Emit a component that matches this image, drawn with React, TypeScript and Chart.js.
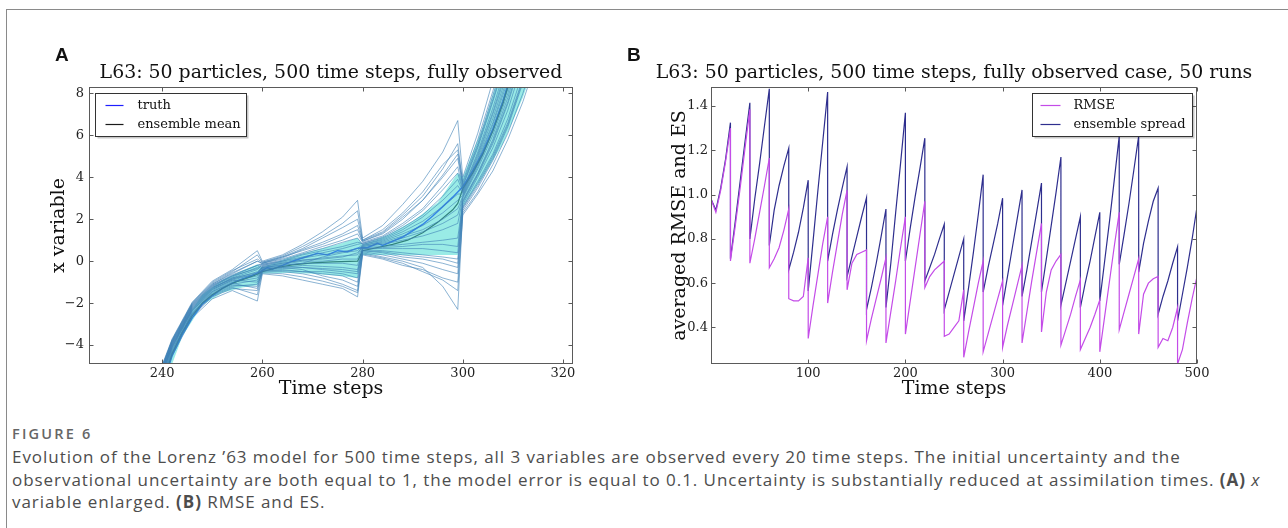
import React, { useEffect, useRef } from "react";
import { Chart, registerables } from "chart.js";

Chart.register(...registerables);

const SERIF = "'DejaVu Serif', 'Liberation Serif', serif";

// ---------------- Panel A data ----------------
const xTicksA = [240, 260, 280, 300, 320];
const yTicksA = [-4, -2, 0, 2, 4, 6, 8];

const particleTimes = [238, 242, 246, 250, 254, 259, 260, 264, 268, 272, 276, 279, 280, 284, 288, 292, 296, 299, 300, 303, 306, 309, 312, 316];
const particle01 = [-7.2, -4.5, -2.7, -1.8, -1.4, -1.9, -0.6, -0.7, -0.9, -1.1, -1.3, -1.7, 0.3, 0.1, -0.2, -0.4, -0.8, -1.0, 2.2, 3.2, 4.3, 5.8, 7.6, 10.5];
const particle02 = [-7.0, -4.4, -2.6, -1.7, -1.3, -1.4, -0.5, -0.5, -0.6, -0.8, -1.1, -1.4, 0.4, 0.2, 0.0, -0.3, -1.2, -2.3, 2.4, 3.5, 4.8, 6.4, 8.5, 11.5];
const particle03 = [-6.9, -4.3, -2.5, -1.6, -1.2, -1.1, -0.45, -0.4, -0.5, -0.6, -0.7, -1.0, 0.5, 0.4, 0.2, 0.1, -0.1, -0.3, 2.6, 3.8, 5.1, 6.8, 9.0, 12];
const particle04 = [-6.8, -4.2, -2.5, -1.5, -1.1, -0.9, -0.4, -0.35, -0.3, -0.4, -0.5, -0.6, 0.55, 0.5, 0.4, 0.3, 0.2, 0.1, 2.7, 4.0, 5.4, 7.2, 9.5, 13];
const particle05 = [-6.7, -4.15, -2.4, -1.45, -1.0, -0.8, -0.35, -0.3, -0.2, -0.25, -0.3, -0.4, 0.6, 0.6, 0.6, 0.6, 0.5, 0.4, 2.8, 4.1, 5.6, 7.5, 9.8, 13.5];
const particle06 = [-6.6, -4.1, -2.35, -1.4, -0.95, -0.7, -0.3, -0.2, -0.1, -0.1, -0.1, -0.2, 0.65, 0.7, 0.8, 0.9, 1.0, 1.1, 2.9, 4.2, 5.8, 7.8, 10.2, 14];
const particle07 = [-6.6, -4.05, -2.3, -1.35, -0.9, -0.6, -0.3, -0.15, 0.0, 0.0, 0.1, 0.1, 0.7, 0.8, 1.0, 1.2, 1.5, 1.8, 3.0, 4.4, 6.0, 8.0, 10.5, 14.5];
const particle08 = [-6.5, -4.0, -2.25, -1.3, -0.85, -0.5, -0.25, -0.1, 0.05, 0.15, 0.25, 0.3, 0.75, 0.9, 1.2, 1.5, 2.0, 2.5, 3.1, 4.6, 6.3, 8.4, 11, 15];
const particle09 = [-6.5, -3.95, -2.2, -1.25, -0.8, -0.4, -0.2, -0.05, 0.15, 0.3, 0.45, 0.6, 0.8, 1.0, 1.4, 1.9, 2.6, 3.2, 3.2, 4.8, 6.6, 8.8, 11.5, 15.5];
const particle10 = [-6.4, -3.9, -2.15, -1.2, -0.75, -0.3, -0.15, 0.0, 0.3, 0.5, 0.7, 0.9, 0.85, 1.1, 1.6, 2.2, 3.1, 3.9, 3.3, 5.0, 7.0, 9.2, 12, 16];
const particle11 = [-6.4, -3.85, -2.1, -1.15, -0.7, -0.2, -0.1, 0.1, 0.4, 0.7, 1.0, 1.3, 0.9, 1.2, 1.8, 2.5, 3.6, 4.5, 3.4, 5.2, 7.3, 9.6, 12.5, 16.5];
const particle12 = [-6.3, -3.8, -2.05, -1.1, -0.6, 0.0, -0.1, 0.15, 0.55, 0.9, 1.3, 1.7, 0.95, 1.3, 2.0, 2.9, 4.1, 5.1, 3.6, 5.5, 7.7, 10, 13, 17];
const particle13 = [-6.3, -3.75, -2.0, -1.05, -0.5, 0.3, -0.05, 0.2, 0.6, 1.1, 1.6, 2.0, 1.0, 1.5, 2.3, 3.3, 4.6, 5.3, 3.8, 5.8, 8.1, 10.5, 13.5, 17.5];
const particle14 = [-6.2, -3.7, -1.95, -0.95, -0.4, 0.5, 0.0, 0.3, 0.8, 1.4, 2.1, 2.9, 1.1, 1.7, 2.7, 3.8, 5.2, 6.7, 4.0, 6.1, 8.6, 11, 14, 18];
const particle15 = [-6.9, -4.35, -2.55, -1.65, -1.25, -1.6, -0.55, -0.6, -0.75, -0.95, -1.2, -1.5, 0.35, 0.15, -0.1, -0.5, -0.9, -1.4, 2.3, 3.3, 4.6, 6.1, 8.0, 11];
const particle16 = [-6.75, -4.25, -2.45, -1.55, -1.15, -1.2, -0.45, -0.45, -0.5, -0.5, -0.6, -0.8, 0.5, 0.45, 0.3, 0.2, 0.1, -0.1, 2.55, 3.7, 5.0, 6.6, 8.7, 11.8];
const particle17 = [-6.55, -4.05, -2.3, -1.35, -0.9, -1.0, -0.35, -0.25, -0.3, -0.35, -0.4, -0.5, 0.6, 0.65, 0.7, 0.8, 0.8, 0.7, 2.85, 4.15, 5.7, 7.6, 10, 13.7];
const particle18 = [-6.45, -3.95, -2.2, -1.25, -0.85, -0.6, -0.25, -0.1, 0.05, 0.1, 0.2, 0.4, 0.7, 0.85, 1.1, 1.4, 1.8, 2.2, 3.05, 4.5, 6.2, 8.2, 10.8, 14.8];
const particle19 = [-6.35, -3.85, -2.1, -1.15, -0.65, -0.2, -0.15, 0.05, 0.35, 0.6, 0.9, 1.1, 0.8, 1.05, 1.5, 2.1, 2.9, 3.6, 3.25, 4.9, 6.8, 9.0, 11.8, 15.8];
const particle20 = [-6.25, -3.75, -2.0, -1.0, -0.45, 0.1, -0.05, 0.25, 0.7, 1.2, 1.8, 2.4, 1.0, 1.4, 2.2, 3.1, 4.4, 5.6, 3.7, 5.6, 7.9, 10.2, 13.2, 17.2];
const particle21 = [-6.6, -4.1, -2.35, -1.45, -1.05, -1.3, -0.4, -0.3, -0.4, -0.7, -0.9, -1.2, 0.45, 0.3, 0.1, -0.1, -0.4, -0.6, 2.5, 3.6, 4.9, 6.5, 8.6, 11.6];
const particle22 = [-6.5, -4.0, -2.25, -1.3, -0.8, -0.55, -0.3, -0.2, -0.1, 0.2, 0.4, 0.5, 0.75, 0.95, 1.3, 1.7, 2.3, 2.9, 3.15, 4.7, 6.5, 8.6, 11.2, 15.2];
const particle23 = [-6.4, -3.9, -2.15, -1.2, -0.7, -0.35, -0.2, 0.0, 0.2, 0.4, 0.6, 0.8, 0.85, 1.15, 1.7, 2.4, 3.4, 4.2, 3.35, 5.1, 7.1, 9.4, 12.2, 16.2];
const particle24 = [-6.3, -3.8, -2.05, -1.1, -0.55, 0.0, -0.1, 0.2, 0.5, 0.8, 1.2, 1.5, 0.95, 1.35, 2.1, 2.9, 4.0, 4.9, 3.55, 5.4, 7.6, 9.9, 12.8, 16.8];
const particles = [
  particle01, particle02, particle03, particle04, particle05, particle06, particle07, particle08,
  particle09, particle10, particle11, particle12, particle13, particle14, particle15, particle16,
  particle17, particle18, particle19, particle20, particle21, particle22, particle23, particle24,
];

const bandTimes = [240, 244, 248, 252, 256, 259, 260, 265, 270, 275, 279, 280, 285, 290, 295, 299, 300, 304, 308, 312, 316];
const bandLower = [-6.2, -3.6, -2.1, -1.5, -1.25, -1.15, -0.6, -0.55, -0.6, -0.7, -0.8, 0.3, 0.3, 0.3, 0.3, 0.3, 2.6, 4.0, 5.6, 7.8, 10.5];
const bandUpper = [-5.2, -3.0, -1.6, -0.9, -0.45, -0.15, -0.3, 0.15, 0.5, 0.8, 1.1, 0.8, 1.25, 1.9, 2.8, 4.2, 4.0, 6.4, 9.5, 13, 17];

const meanTimes = [240, 242, 244, 246, 248, 250, 252, 254, 256, 258, 259, 260, 263, 266, 270, 274, 279, 280, 283, 286, 289, 292, 295, 298, 299, 300, 302, 304, 306, 308, 310, 312];
const meanValues = [-5.9, -4.4, -3.4, -2.6, -2.0, -1.6, -1.3, -1.05, -0.88, -0.72, -0.62, -0.5, -0.3, -0.18, -0.08, -0.03, 0.0, 0.5, 0.65, 0.8, 1.0, 1.35, 1.85, 2.45, 2.75, 3.45, 4.2, 5.1, 6.2, 7.5, 9.1, 11];

const truthTimes = [240, 242, 244, 246, 248, 250, 252, 254, 256, 258, 260, 261, 262, 264, 266, 268, 270, 271, 273, 275, 277, 279, 281, 282, 283, 284, 286, 288, 290, 292, 294, 296, 298, 300, 302, 304, 306, 308, 310];
const truthValues = [-6.0, -4.5, -3.5, -2.7, -2.05, -1.65, -1.3, -1.05, -0.85, -0.68, -0.45, -0.3, -0.38, -0.2, 0.0, 0.15, 0.3, 0.38, 0.3, 0.5, 0.45, 0.62, 0.65, 0.75, 0.85, 0.75, 0.95, 1.15, 1.45, 1.75, 2.15, 2.6, 3.05, 3.55, 4.3, 5.2, 6.3, 7.6, 9.2];

// ---------------- Panel B data ----------------
const xTicksB = [100, 200, 300, 400, 500];
const yTicksB = [0.4, 0.6, 0.8, 1.0, 1.2, 1.4];
const segmentStarts = [0, 20, 40, 60, 80, 100, 120, 140, 160, 180, 200, 220, 240, 260, 280, 300, 320, 340, 360, 380, 400, 420, 440, 460, 480];
const sampleOffsets = [0, 5, 10, 15, 20];

const esLow = [0.98, 0.71, 0.80, 0.77, 0.66, 0.565, 0.70, 0.63, 0.48, 0.49, 0.70, 0.61, 0.48, 0.43, 0.56, 0.50, 0.54, 0.56, 0.50, 0.49, 0.52, 0.685, 0.65, 0.46, 0.43];
const esQ1 = [0.93, 0.88, 0.98, 0.93, 0.74, 0.79, 0.82, 0.72, 0.58, 0.69, 0.85, 0.67, 0.56, 0.58, 0.67, 0.63, 0.66, 0.71, 0.60, 0.60, 0.70, 0.82, 0.78, 0.54, 0.55];
const esQ2 = [1.03, 1.06, 1.14, 1.04, 0.83, 1.02, 0.93, 0.81, 0.69, 0.92, 0.99, 0.73, 0.64, 0.74, 0.77, 0.76, 0.79, 0.86, 0.70, 0.70, 0.88, 0.96, 0.88, 0.61, 0.67];
const esQ3 = [1.16, 1.24, 1.31, 1.13, 0.94, 1.24, 1.03, 0.90, 0.81, 1.14, 1.12, 0.80, 0.72, 0.91, 0.87, 0.89, 0.92, 1.01, 0.80, 0.81, 1.07, 1.11, 0.97, 0.69, 0.80];
const esPeak = [1.325, 1.415, 1.478, 1.21, 1.065, 1.463, 1.126, 0.986, 0.935, 1.37, 1.255, 0.866, 0.80, 1.09, 0.984, 1.021, 1.052, 1.17, 0.90, 0.92, 1.264, 1.264, 1.029, 0.764, 0.945];
const esEnd = 0.5;

const rmseLow = [0.98, 0.70, 0.69, 0.67, 0.53, 0.35, 0.51, 0.57, 0.34, 0.33, 0.37, 0.58, 0.36, 0.265, 0.29, 0.31, 0.33, 0.38, 0.32, 0.30, 0.29, 0.39, 0.37, 0.31, 0.235];
const rmseQ1 = [0.92, 0.86, 0.80, 0.71, 0.52, 0.50, 0.65, 0.69, 0.44, 0.47, 0.52, 0.63, 0.37, 0.38, 0.37, 0.41, 0.47, 0.56, 0.39, 0.35, 0.45, 0.47, 0.55, 0.35, 0.30];
const rmseQ2 = [1.02, 1.03, 0.92, 0.76, 0.52, 0.64, 0.78, 0.73, 0.53, 0.61, 0.67, 0.66, 0.40, 0.49, 0.45, 0.50, 0.61, 0.66, 0.46, 0.40, 0.61, 0.55, 0.60, 0.34, 0.42];
const rmseQ3 = [1.15, 1.21, 1.04, 0.84, 0.54, 0.78, 0.91, 0.74, 0.62, 0.76, 0.82, 0.68, 0.43, 0.60, 0.53, 0.59, 0.74, 0.70, 0.54, 0.46, 0.77, 0.63, 0.62, 0.40, 0.53];
const rmsePeak = [1.30, 1.385, 1.165, 0.935, 0.715, 0.90, 1.02, 0.75, 0.715, 0.90, 0.97, 0.70, 0.57, 0.70, 0.61, 0.68, 0.87, 0.73, 0.615, 0.525, 0.92, 0.71, 0.63, 0.49, 0.63];
const rmseEnd = 0.27;

// ---------------- styles ----------------
const truthColor = "#1f1fff";
const meanColor = "#1a1a1a";
const particleColor = "rgba(62,128,182,0.6)";
const bandColor = "rgba(70,218,210,0.55)";
const rmseColor = "#c44ce8";
const esColor = "#2e2e8e";

const pts = (xs: number[], ys: number[]) => xs.map((x, i) => ({ x, y: ys[i] }));

function sawPoints(rows: number[][], end: number) {
  const out: { x: number; y: number }[] = [];
  segmentStarts.forEach((t, i) => {
    sampleOffsets.forEach((o, k) => out.push({ x: t + o, y: rows[k][i] }));
  });
  out.push({ x: segmentStarts[segmentStarts.length - 1] + 20, y: end });
  return out;
}

const minusFmt = (v: number) => String(v).replace("-", "\u2212");

const framePlugin = {
  id: "frameTicks",
  afterDraw(chart: any) {
    const { ctx, chartArea: a, scales } = chart;
    ctx.save();
    ctx.strokeStyle = "#5a5a5a";
    ctx.lineWidth = 1;
    const L = Math.round(a.left) + 0.5, R = Math.round(a.right) - 0.5;
    const T = Math.round(a.top) + 0.5, B = Math.round(a.bottom) - 0.5;
    ctx.strokeRect(L, T, R - L, B - T);
    ctx.beginPath();
    scales.x.ticks.forEach((t: any) => {
      const px = Math.round(scales.x.getPixelForValue(t.value)) + 0.5;
      ctx.moveTo(px, B); ctx.lineTo(px, B - 4);
      ctx.moveTo(px, T); ctx.lineTo(px, T + 4);
    });
    scales.y.ticks.forEach((t: any) => {
      const py = Math.round(scales.y.getPixelForValue(t.value)) + 0.5;
      ctx.moveTo(L, py); ctx.lineTo(L + 4, py);
      ctx.moveTo(R, py); ctx.lineTo(R - 4, py);
    });
    ctx.stroke();
    ctx.restore();
  },
};

const boxLegendPlugin = {
  id: "boxLegend",
  afterDraw(chart: any, _args: any, opts: any) {
    const { ctx, chartArea: a } = chart;
    const w = opts.width, h = opts.height;
    const x0 = Math.round(opts.anchor === "left" ? a.left + opts.inset : a.right - opts.inset - w) + 0.5;
    const y0 = Math.round(a.top + opts.insetTop) + 0.5;
    ctx.save();
    ctx.fillStyle = "rgba(0,0,0,0.22)";
    ctx.fillRect(x0 + 2, y0 + 2, w, h);
    ctx.fillStyle = "#fff";
    ctx.fillRect(x0, y0, w, h);
    ctx.strokeStyle = "#333";
    ctx.lineWidth = 1;
    ctx.strokeRect(x0, y0, w, h);
    ctx.font = `13px ${SERIF}`;
    ctx.textBaseline = "middle";
    ctx.fillStyle = "#111";
    opts.items.forEach((it: any, i: number) => {
      const y = Math.round(y0 + opts.firstRow + i * opts.rowGap) + 0.5;
      ctx.strokeStyle = it.color;
      ctx.lineWidth = 1.2;
      ctx.beginPath();
      ctx.moveTo(x0 + opts.lineStart, y);
      ctx.lineTo(x0 + opts.lineStart + opts.lineLen, y);
      ctx.stroke();
      ctx.fillText(it.label, x0 + opts.textStart, y);
    });
    ctx.restore();
  },
};

const tickFont = { family: SERIF, size: 13 };
const axisTitleFont = { family: SERIF, size: 19 };

function axis(min: number, max: number, ticks: number[], fmt: (v: number) => string, pad: number) {
  return {
    type: "linear" as const,
    min,
    max,
    afterBuildTicks: (s: any) => {
      s.ticks = ticks.map((v) => ({ value: v }));
    },
    grid: { display: false, drawTicks: false },
    border: { display: false },
    ticks: {
      font: tickFont,
      color: "#222",
      autoSkip: false,
      maxRotation: 0,
      padding: pad,
      callback: (v: any) => fmt(Number(v)),
    },
  };
}

export default function App() {
  const refA = useRef<HTMLCanvasElement>(null);
  const refB = useRef<HTMLCanvasElement>(null);

  useEffect(() => {
    Chart.defaults.font.family = SERIF;
    const lineBase = { pointRadius: 0, tension: 0, fill: false };

    const particleSets = particles.map((p, i) => ({
      ...lineBase,
      label: `particle ${i + 1}`,
      data: pts(particleTimes, p),
      borderColor: particleColor,
      borderWidth: 1,
    }));

    const chartA = new Chart(refA.current as HTMLCanvasElement, {
      type: "line",
      data: {
        datasets: [
          ...particleSets,
          { ...lineBase, label: "band lower", data: pts(bandTimes, bandLower), borderWidth: 0, borderColor: "rgba(0,0,0,0)" },
          { ...lineBase, label: "band upper", data: pts(bandTimes, bandUpper), borderWidth: 0, borderColor: "rgba(0,0,0,0)", fill: "-1", backgroundColor: bandColor },
          { ...lineBase, label: "ensemble mean", data: pts(meanTimes, meanValues), borderColor: meanColor, borderWidth: 1.2 },
          { ...lineBase, label: "truth", data: pts(truthTimes, truthValues), borderColor: truthColor, borderWidth: 1.5 },
        ] as any,
      },
      options: {
        animation: false,
        responsive: false,
        devicePixelRatio: 1,
        events: [],
        layout: { padding: { left: 40, top: 87, right: 67, bottom: 0 } },
        plugins: {
          legend: { display: false },
          tooltip: { enabled: false },
          boxLegend: {
            anchor: "left", inset: 6, insetTop: 6, width: 151, height: 43,
            firstRow: 11, rowGap: 19, lineStart: 10, lineLen: 18, textStart: 42,
            items: [
              { label: "truth", color: truthColor },
              { label: "ensemble mean", color: meanColor },
            ],
          },
        } as any,
        scales: {
          x: {
            ...axis(225.4, 322, xTicksA, (v) => String(v), 2),
            afterFit: (s: any) => { s.height = 46; },
            title: { display: true, text: "Time steps", font: axisTitleFont, color: "#111", padding: { top: 0, bottom: 10 } },
          },
          y: {
            ...axis(-4.9, 8.3, yTicksA, minusFmt, 5),
            afterFit: (s: any) => { s.width = 49; },
            title: { display: true, text: "x variable", font: axisTitleFont, color: "#111", padding: { top: 8, bottom: 0 } },
          },
        } as any,
      },
      plugins: [framePlugin, boxLegendPlugin],
    });

    const chartB = new Chart(refB.current as HTMLCanvasElement, {
      type: "line",
      data: {
        datasets: [
          { ...lineBase, label: "RMSE", data: sawPoints([rmseLow, rmseQ1, rmseQ2, rmseQ3, rmsePeak], rmseEnd), borderColor: rmseColor, borderWidth: 1.2 },
          { ...lineBase, label: "ensemble spread", data: sawPoints([esLow, esQ1, esQ2, esQ3, esPeak], esEnd), borderColor: esColor, borderWidth: 1.2 },
        ] as any,
      },
      options: {
        animation: false,
        responsive: false,
        devicePixelRatio: 1,
        events: [],
        layout: { padding: { left: 24, top: 87, right: 91, bottom: 0 } },
        plugins: {
          legend: { display: false },
          tooltip: { enabled: false },
          boxLegend: {
            anchor: "right", inset: 5, insetTop: 6, width: 160, height: 43,
            firstRow: 11, rowGap: 19, lineStart: 8, lineLen: 20, textStart: 41,
            items: [
              { label: "RMSE", color: rmseColor },
              { label: "ensemble spread", color: esColor },
            ],
          },
        } as any,
        scales: {
          x: {
            ...axis(0, 500, xTicksB, (v) => String(v), 2),
            afterFit: (s: any) => { s.height = 46; },
            title: { display: true, text: "Time steps", font: axisTitleFont, color: "#111", padding: { top: 0, bottom: 10 } },
          },
          y: {
            ...axis(0.235, 1.486, yTicksB, (v) => v.toFixed(1), 3),
            afterFit: (s: any) => { s.width = 47; },
            title: { display: true, text: "averaged RMSE and ES", font: axisTitleFont, color: "#111", padding: { top: 5, bottom: 0 } },
          },
        } as any,
      },
      plugins: [framePlugin, boxLegendPlugin],
    });

    return () => {
      chartA.destroy();
      chartB.destroy();
    };
  }, []);

  const titleStyle: React.CSSProperties = {
    position: "absolute",
    top: 60,
    transform: "translateX(-50%)",
    whiteSpace: "nowrap",
    fontFamily: SERIF,
    fontSize: 18.9,
    lineHeight: "23px",
    color: "#111",
  };
  const letterStyle: React.CSSProperties = {
    position: "absolute",
    top: 44,
    fontFamily: "'Liberation Sans', Arial, sans-serif",
    fontWeight: 700,
    fontSize: 19,
    lineHeight: "22px",
    color: "#111",
  };
  const capLine: React.CSSProperties = {
    position: "absolute",
    left: 12,
    whiteSpace: "nowrap",
    fontFamily: "'Open Sans', 'Noto Sans', sans-serif",
    fontSize: 17,
    letterSpacing: "0.95px",
    lineHeight: "22px",
    color: "#4d4d4d",
  };

  return (
    <div style={{ position: "fixed", left: 0, top: 0, width: 1288, height: 528, overflow: "hidden", background: "#fff" }}>
      <div style={{ position: "absolute", left: 6, top: 9, width: 1400, height: 700, border: "1px solid #8a8a8a" }} />
      <canvas ref={refA} width={640} height={410} style={{ position: "absolute", left: 0, top: 0 }} />
      <canvas ref={refB} width={648} height={410} style={{ position: "absolute", left: 640, top: 0 }} />
      <div style={{ ...letterStyle, left: 55 }}>A</div>
      <div style={{ ...letterStyle, left: 627 }}>B</div>
      <div style={{ ...titleStyle, left: 331 }}>L63: 50 particles, 500 time steps, fully observed</div>
      <div style={{ ...titleStyle, left: 954 }}>L63: 50 particles, 500 time steps, fully observed case, 50 runs</div>
      <div style={{ ...capLine, top: 423, fontSize: 14.5, letterSpacing: "2.2px", fontWeight: 600, color: "#666" }}>FIGURE 6</div>
      <div style={{ ...capLine, top: 446 }}>
        Evolution of the Lorenz ’63 model for 500 time steps, all 3 variables are observed every 20 time steps. The initial uncertainty and the
      </div>
      <div style={{ ...capLine, top: 469 }}>
        observational uncertainty are both equal to 1, the model error is equal to 0.1. Uncertainty is substantially reduced at assimilation times. <b>(A)</b> <i>x</i>
      </div>
      <div style={{ ...capLine, top: 491 }}>
        variable enlarged. <b>(B)</b> RMSE and ES.
      </div>
    </div>
  );
}
